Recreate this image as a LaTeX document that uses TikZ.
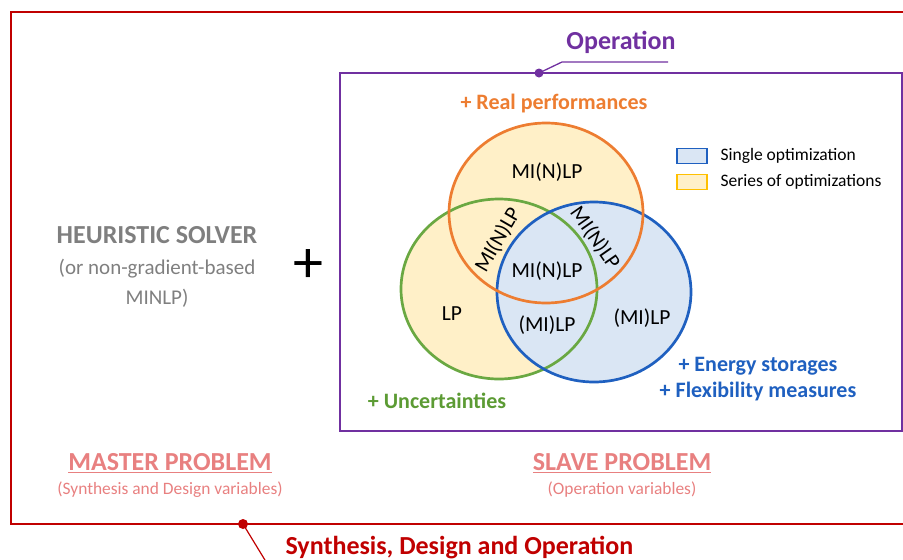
\documentclass[tikz,border=0pt]{standalone}
\usepackage{fontspec}
\setmainfont{Carlito}

\definecolor{sdored}{RGB}{192,0,0}
\definecolor{oppurple}{RGB}{112,48,160}
\definecolor{realorange}{RGB}{237,125,49}
\definecolor{uncgreen}{RGB}{106,168,66}
\definecolor{uncgreentext}{RGB}{92,155,52}
\definecolor{flexblue}{RGB}{31,96,192}
\definecolor{singlefill}{RGB}{218,230,244}
\definecolor{seriesfill}{RGB}{255,240,200}
\definecolor{seriesborder}{RGB}{255,192,0}
\definecolor{masterpink}{RGB}{232,128,128}
\definecolor{heurgray}{RGB}{127,127,127}

\tikzset{
  lplabel/.style={font=\fontsize{21.5}{24}\selectfont, text=black, inner sep=1pt},
  legendbox/.style={draw, line width=1.3pt, minimum width=30pt, minimum height=15pt, inner sep=0pt},
  problemtitle/.style={font=\fontsize{26}{30}\selectfont\bfseries, text=masterpink},
  problemsub/.style={font=\fontsize{17.4}{20}\selectfont, text=masterpink}
}

\begin{document}
\begin{tikzpicture}[x=1pt, y=-1pt]
\useasboundingbox (0,0) rectangle (903,560);

% outer and inner frames
\draw[sdored, line width=2.3pt] (940,12) -- (11,12) -- (11,524) -- (940,524);
\draw[oppurple, line width=2.3pt] (340,73) rectangle (902,431);

% venn fills (blue on top), then outlines
\fill[seriesfill] (546,213) ellipse [x radius=97, y radius=90];
\fill[seriesfill] (499,289) ellipse [x radius=98, y radius=90];
\fill[singlefill] (594,292) ellipse [x radius=97, y radius=90];
\draw[uncgreen, line width=2.7pt] (499,289) ellipse [x radius=98, y radius=90];
\draw[flexblue, line width=2.7pt] (594,292) ellipse [x radius=97, y radius=90];
\draw[realorange, line width=2.7pt] (546,213) ellipse [x radius=97, y radius=90];

\node[lplabel] (toplp) at (547,172) {MI(N)LP};
\node[lplabel, rotate=60] (leftlp) at (498,240) {MI(N)LP};
\node[lplabel, rotate=-55] (rightlp) at (595,238) {MI(N)LP};
\node[lplabel] (midlp) at (547,271) {MI(N)LP};
\node[lplabel] (greenlp) at (452,314) {LP};
\node[lplabel] (lowlp) at (547,325) {(MI)LP};
\node[lplabel] (bluelp) at (642,318) {(MI)LP};

% legend
\node[legendbox, draw=flexblue, fill=singlefill] (singlebox) at (692,156) {};
\node[legendbox, draw=seriesborder, fill=seriesfill] (seriesbox) at (692,182) {};
\node[anchor=west, font=\fontsize{17.5}{20}\selectfont] (singletext) at (717,156) {Single optimization};
\node[anchor=west, font=\fontsize{17.5}{20}\selectfont] (seriestext) at (717,182) {Series of optimizations};

% additions to the slave problem
\node[text=realorange, font=\fontsize{22}{26}\selectfont\bfseries] (realperf) at (554,104) {+ Real performances};
\node[text=uncgreentext, font=\fontsize{22}{26}\selectfont\bfseries] (uncert) at (437,401) {+ Uncertainties};
\node[text=flexblue, font=\fontsize{22}{25.5}\selectfont\bfseries, align=center] (flex) at (758,379) {+ Energy storages\\+ Flexibility measures};

% operation label
\coordinate (opdot) at (539,73);
\coordinate (opbend) at (562,62);
\coordinate (opend) at (668,62);
\fill[oppurple] (opdot) circle (4.5);
\draw[oppurple, line width=1.3pt] (opdot) -- (opbend) -- (opend);
\node[text=oppurple, font=\fontsize{26}{30}\selectfont\bfseries] (oplabel) at (621,42) {Operation};

% master side
\node[text=heurgray, font=\fontsize{21}{30.5}\selectfont, align=center] (heur) at (157,267) {{\fontsize{26}{30.5}\selectfont\bfseries HEURISTIC SOLVER}\\(or non-gradient-based\\MINLP)};
\node[font=\fontsize{60}{60}\selectfont] (plus) at (308,266) {+};

\node[problemtitle] (master) at (170,463) {\underline{MASTER PROBLEM}};
\node[problemsub] (mastersub) at (170,490) {(Synthesis and Design variables)};
\node[problemtitle] (slave) at (622,463) {\underline{SLAVE PROBLEM}};
\node[problemsub] (slavesub) at (622,490) {(Operation variables)};

% synthesis label
\coordinate (sdodot) at (243,524);
\coordinate (sdoend) at (268,565);
\fill[sdored] (sdodot) circle (5);
\draw[sdored, line width=1.2pt] (sdodot) -- (sdoend);
\node[text=sdored, font=\fontsize{26}{30}\selectfont\bfseries, anchor=west] (sdolabel) at (282,548) {Synthesis, Design and Operation};
\end{tikzpicture}
\end{document}
